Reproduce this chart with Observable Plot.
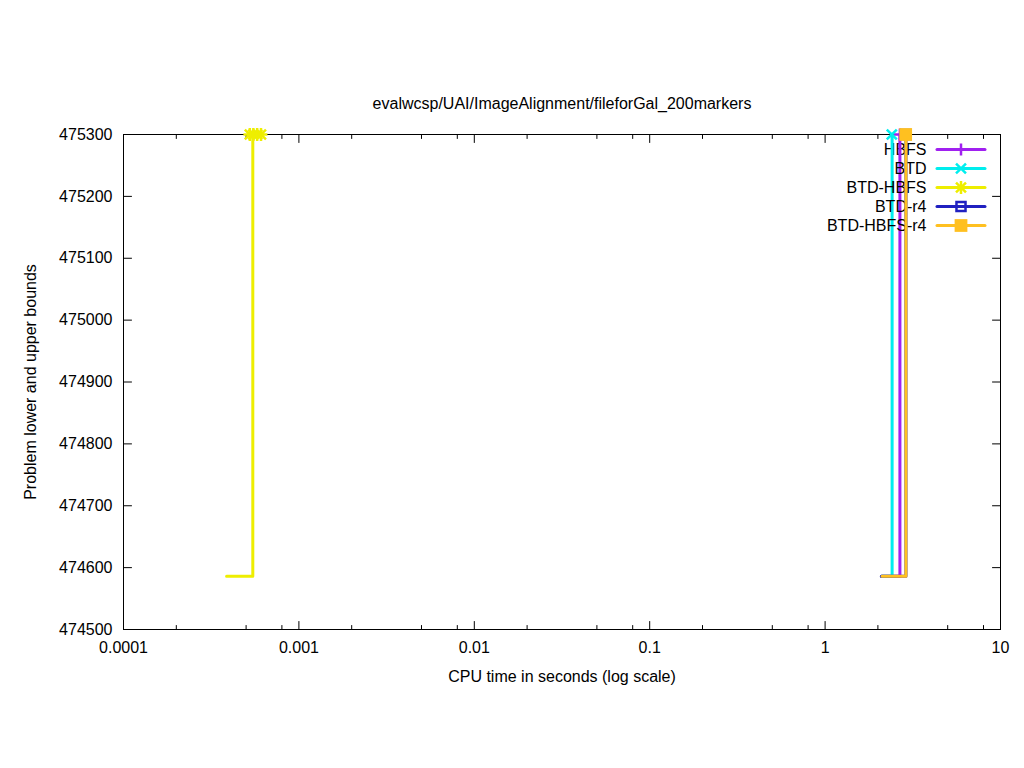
<!DOCTYPE html>
<html>
<head>
<meta charset="utf-8">
<script src="https://cdn.jsdelivr.net/npm/d3@7"></script>
<script src="https://cdn.jsdelivr.net/npm/@observablehq/plot@0.6"></script>
<style>
  html, body { margin: 0; padding: 0; background: #fff; }
  #chart svg { display: block; }
</style>
</head>
<body>
<div id="chart"></div>
<script>
// ---------- data ----------
const series = ["HBFS", "BTD", "BTD-HBFS", "BTD-r4", "BTD-HBFS-r4"];

// lower-bound step lines (time in seconds, bound value)
const lbSeries = ["HBFS", "HBFS", "BTD", "BTD", "BTD-HBFS", "BTD-HBFS", "BTD-r4", "BTD-r4", "BTD-HBFS-r4", "BTD-HBFS-r4"];
const lbTime   = [2.1, 2.67, 2.1, 2.41, 0.000387, 0.000546, 2.09, 2.89, 2.11, 2.89];
const lbValue  = [474586, 475300, 474586, 475300, 474586, 475300, 474586, 475300, 474586, 475300];

// upper-bound points
const ubSeries = ["HBFS", "BTD", "BTD-HBFS", "BTD-HBFS", "BTD-HBFS", "BTD-HBFS", "BTD-r4", "BTD-HBFS-r4"];
const ubTime   = [2.67, 2.4, 0.000525, 0.00055, 0.000578, 0.000608, 2.88, 2.88];
const ubValue  = [475300, 475300, 475300, 475300, 475300, 475300, 475300, 475300];

// axis ticks
const xTicks = [0.0001, 0.001, 0.01, 0.1, 1, 10];
const xTickLabels = ["0.0001", "0.001", "0.01", "0.1", "1", "10"];
const xMinorTicks = [0.0002, 0.0005, 0.0008, 0.002, 0.005, 0.008, 0.02, 0.05, 0.08, 0.2, 0.5, 0.8, 2, 5, 8];
const yTicks = [474500, 474600, 474700, 474800, 474900, 475000, 475100, 475200, 475300];

const titleText = "evalwcsp/UAI/ImageAlignment/fileforGal_200markers";
const xLabel = "CPU time in seconds (log scale)";
const yLabel = "Problem lower and upper bounds";

// ---------- styles ----------
const colors = {"HBFS": "#a020f0", "BTD": "#00eeee", "BTD-HBFS": "#eeee00", "BTD-r4": "#2020c0", "BTD-HBFS-r4": "#ffc020"};
// each series' point glyph as one or more Plot symbols drawn on top of each other
const symStyle = {
  "HBFS": [{symbol: "plus", r: 4, fill: false}],
  "BTD": [{symbol: "times", r: 4.6, fill: false}],
  "BTD-HBFS": [{symbol: "plus", r: 4.2, fill: false}, {symbol: "times", r: 4.6, fill: false}],
  "BTD-r4": [{symbol: "square", r: 5.1, fill: false}],
  "BTD-HBFS-r4": [{symbol: "square", r: 7.2, fill: true}]
};
const FS = 16;
const lineShape = {draw(ctx, l) { ctx.moveTo(0, 0); ctx.lineTo(0, -l); }};

const lb = lbTime.map((t, i) => ({t, v: lbValue[i], s: lbSeries[i]}));
const ub = ubTime.map((t, i) => ({t, v: ubValue[i], s: ubSeries[i]}));

const marks = [];
// frame + ticks
marks.push(Plot.frame({stroke: "black", strokeWidth: 1}));
marks.push(Plot.vector(yTicks, {y: d => d, frameAnchor: "left", rotate: 90, length: 8, anchor: "start", shape: lineShape, stroke: "black", strokeWidth: 1}));
marks.push(Plot.vector(yTicks, {y: d => d, frameAnchor: "right", rotate: -90, length: 8, anchor: "start", shape: lineShape, stroke: "black", strokeWidth: 1}));
marks.push(Plot.vector(xTicks, {x: d => d, frameAnchor: "bottom", rotate: 0, length: 8, anchor: "start", shape: lineShape, stroke: "black", strokeWidth: 1}));
marks.push(Plot.vector(xTicks, {x: d => d, frameAnchor: "top", rotate: 180, length: 8, anchor: "start", shape: lineShape, stroke: "black", strokeWidth: 1}));
marks.push(Plot.vector(xMinorTicks, {x: d => d, frameAnchor: "bottom", rotate: 0, length: 4, anchor: "start", shape: lineShape, stroke: "black", strokeWidth: 1}));
marks.push(Plot.vector(xMinorTicks, {x: d => d, frameAnchor: "top", rotate: 180, length: 4, anchor: "start", shape: lineShape, stroke: "black", strokeWidth: 1}));
// tick labels
marks.push(Plot.text(yTicks, {y: d => d, text: d => String(d), frameAnchor: "left", dx: -11, textAnchor: "end", lineAnchor: "middle", fontSize: FS, fill: "black"}));
marks.push(Plot.text(xTicks, {x: d => d, text: (d, i) => xTickLabels[i], frameAnchor: "bottom", dy: 18, textAnchor: "middle", lineAnchor: "middle", fontSize: FS, fill: "black"}));
// axis labels and title
marks.push(Plot.text([xLabel], {text: d => d, frameAnchor: "bottom", dy: 47, textAnchor: "middle", lineAnchor: "middle", fontSize: FS, fill: "black"}));
marks.push(Plot.text([yLabel], {text: d => d, frameAnchor: "left", dx: -93, rotate: -90, textAnchor: "middle", lineAnchor: "middle", fontSize: FS, fill: "black"}));
marks.push(Plot.text([titleText], {text: d => d, frameAnchor: "top", dy: -31, textAnchor: "middle", lineAnchor: "middle", fontSize: FS, fill: "black"}));

// data + legend per series
series.forEach((s, i) => {
  const c = colors[s];
  const glyphs = symStyle[s].map(st => st.fill
    ? {symbol: st.symbol, r: st.r, fill: c, stroke: "none"}
    : {symbol: st.symbol, r: st.r, fill: "none", stroke: c, strokeWidth: 2.5});
  const rowDy = 15 + i * 19;
  marks.push(Plot.text([s], {text: d => d, frameAnchor: "top-right", dx: -74, dy: rowDy, textAnchor: "end", lineAnchor: "middle", fontSize: FS, fill: "black"}));
  marks.push(Plot.vector([0], {frameAnchor: "top-right", dx: -39.5, dy: rowDy, length: 48, rotate: 90, anchor: "middle", shape: lineShape, stroke: c, strokeWidth: 3}));
  glyphs.forEach(g => marks.push(Plot.dot([0], {frameAnchor: "top-right", dx: -39.5, dy: rowDy, ...g})));
  marks.push(Plot.line(lb.filter(d => d.s === s), {x: "t", y: "v", stroke: c, strokeWidth: 3, curve: "step-after"}));
  glyphs.forEach(g => marks.push(Plot.dot(ub.filter(d => d.s === s), {x: "t", y: "v", ...g})));
});

const chart = Plot.plot({
  width: 1024,
  height: 768,
  marginLeft: 123,
  marginRight: 24,
  marginTop: 134,
  marginBottom: 139,
  style: {fontFamily: "'Liberation Sans', Arial, sans-serif", fontSize: "16px", background: "white", color: "black"},
  x: {type: "log", domain: [0.0001, 10], axis: null},
  y: {type: "linear", domain: [474500, 475300], axis: null},
  marks
});
document.getElementById("chart").appendChild(chart);
</script>
</body>
</html>
